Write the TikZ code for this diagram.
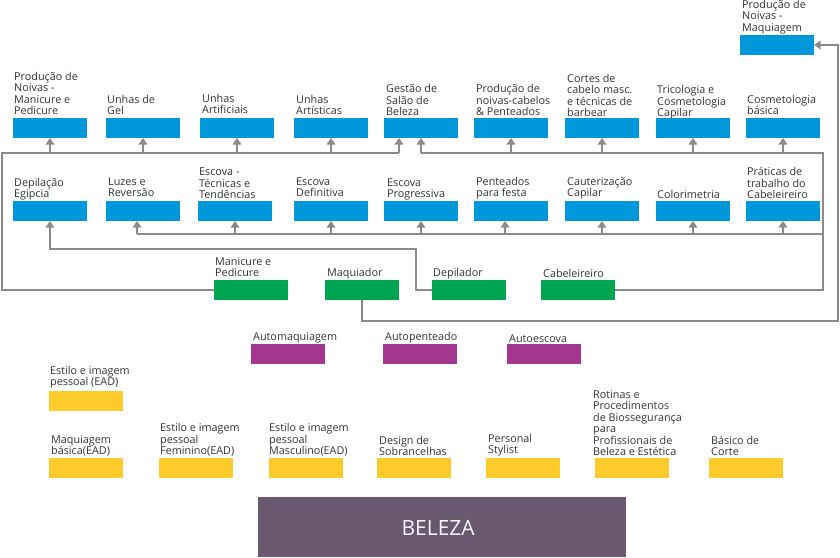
\documentclass[tikz,border=0pt]{standalone}
\usepackage{fontspec}
\setmainfont{Open Sans}
\usetikzlibrary{arrows.meta}
\definecolor{cblue}{HTML}{0098DA}
\definecolor{cgreen}{HTML}{00A551}
\definecolor{cpurple}{HTML}{A3368F}
\definecolor{cyellow}{HTML}{FFCB2B}
\definecolor{cbeleza}{HTML}{6A5870}
\definecolor{cline}{HTML}{8A8A8A}
\definecolor{ctext}{HTML}{333333}
\tikzset{
  boxbase/.style={anchor=north west,minimum width=74pt,minimum height=20pt,inner sep=0pt,outer sep=0pt},
  bluebox/.style={boxbase,fill=cblue},
  greenbox/.style={boxbase,fill=cgreen},
  purplebox/.style={boxbase,fill=cpurple},
  yellowbox/.style={boxbase,fill=cyellow},
  lbl/.style={anchor=south west,align=left,inner sep=0pt,text=ctext,font=\fontsize{10.8}{11.5}\selectfont},
  conn/.style={draw=cline,line width=1.9pt},
  arr/.style={conn,-{Triangle[width=8.5pt,length=6.5pt]}},
}
% \lab{name}{x}{baseline y}{text}
\newcommand\lab[4]{\node[lbl] (#1) at (#2,#3+3.45) {#4\strut};}
\begin{document}
\begin{tikzpicture}[x=1pt,y=-1pt]
\useasboundingbox (0,0) rectangle (840,557);

% ---------- top row (blue) ----------
\node[bluebox] (bPNM) at (13,118) {};
\node[bluebox] (bUG)  at (106,118) {};
\node[bluebox] (bUAf) at (200,118) {};
\node[bluebox] (bUAs) at (294,118) {};
\node[bluebox] (bGS)  at (384,118) {};
\node[bluebox] (bPNC) at (474,118) {};
\node[bluebox] (bCC)  at (565,118) {};
\node[bluebox] (bTC)  at (656,118) {};
\node[bluebox] (bCB)  at (746,118) {};
\node[bluebox] (bNM)  at (740,35) {};
\lab{lPNM}{14}{115}{Produção de\\Noivas -\\Manicure e\\Pedicure}
\lab{lUG}{107}{115}{Unhas de\\Gel}
\lab{lUAf}{202}{114}{Unhas\\Artificiais}
\lab{lUAs}{296}{115}{Unhas\\Artísticas}
\lab{lGS}{386}{116}{Gestão de\\Salão de\\Beleza}
\lab{lPNC}{476}{116}{Produção de\\noivas-cabelos\\\& Penteados}
\lab{lCC}{567}{117}{Cortes de\\cabelo masc.\\e técnicas de\\barbear}
\lab{lTC}{657}{117}{Tricologia e\\Cosmetologia\\Capilar}
\lab{lCB}{747}{115}{Cosmetologia\\básica}
\lab{lNM}{742}{31.5}{Produção de\\Noivas -\\Maquiagem}

% ---------- second row (blue) ----------
\node[bluebox] (bDE) at (13,201) {};
\node[bluebox] (bLR) at (106,201) {};
\node[bluebox] (bET) at (198,201) {};
\node[bluebox] (bED) at (294,201) {};
\node[bluebox] (bEP) at (384,201) {};
\node[bluebox] (bPF) at (474,201) {};
\node[bluebox] (bCa) at (565,201) {};
\node[bluebox] (bCo) at (656,201) {};
\node[bluebox] (bPT) at (746,201) {};
\lab{lDE}{14}{198}{Depilação\\Egipcia}
\lab{lLR}{108}{197}{Luzes e\\Reversão}
\lab{lET}{199}{199}{Escova -\\Técnicas e\\Tendências}
\lab{lED}{296}{197}{Escova\\Definitiva}
\lab{lEP}{387}{198}{Escova\\Progressiva}
\lab{lPF}{476}{197}{Penteados\\para festa}
\lab{lCa}{567}{197}{Cauterização\\Capilar}
\lab{lCo}{657}{199}{Colorimetria}
\lab{lPT}{747}{199}{Práticas de\\trabalho do\\Cabeleireiro}

% ---------- green ----------
\node[greenbox] (gMP) at (214,280) {};
\node[greenbox] (gMq) at (325,280) {};
\node[greenbox] (gDp) at (432,280) {};
\node[greenbox] (gCb) at (541,280) {};
\lab{lMP}{215}{277}{Manicure e\\Pedicure}
\lab{lMq}{327}{277}{Maquiador}
\lab{lDp}{433}{277}{Depilador}
\lab{lCb}{543}{278}{Cabeleireiro}

% ---------- purple ----------
\node[purplebox] (pAM) at (251,344) {};
\node[purplebox] (pAP) at (383,344) {};
\node[purplebox] (pAE) at (507,344) {};
\lab{lAM}{253}{341}{Automaquiagem}
\lab{lAP}{385}{341}{Autopenteado}
\lab{lAE}{509}{343}{Autoescova}

% ---------- yellow ----------
\node[yellowbox] (yEP) at (49,391) {};
\node[yellowbox] (yMB) at (49,458) {};
\node[yellowbox] (yEF) at (159,458) {};
\node[yellowbox] (yEM) at (269,458) {};
\node[yellowbox] (yDS) at (377,458) {};
\node[yellowbox] (yPS) at (486,458) {};
\node[yellowbox] (yRP) at (595,458) {};
\node[yellowbox] (yBC) at (709,458) {};
\lab{lEP2}{50}{386}{Estilo e imagem\\pessoal (EAD)}
\lab{lMB}{51}{455}{Maquiagem\\básica(EAD)}
\lab{lEF}{160}{455}{Estilo e imagem\\pessoal\\Feminino(EAD)}
\lab{lEM}{269}{455}{Estilo e imagem\\pessoal\\Masculino(EAD)}
\lab{lDS}{379}{456}{Design de\\Sobrancelhas}
\lab{lPS}{488}{454}{Personal\\Stylist}
\lab{lRP}{593}{456}{Rotinas e\\Procedimentos\\de Biossegurança\\para\\Profissionais de\\Beleza e Estética}
\lab{lBC}{711}{456}{Básico de\\Corte}

% ---------- BELEZA ----------
\node[anchor=north west,fill=cbeleza,minimum width=368pt,minimum height=60pt,inner sep=0pt] (beleza) at (258,497) {};
\node[text=white!94!cbeleza,font=\fontsize{21}{24}\selectfont] (belezat) at ([xshift=-4pt,yshift=-1pt]beleza.center) {BELEZA};

% ---------- connectors ----------
\coordinate (TL) at (2,153);
\coordinate (TR) at (823,153);
\coordinate (gsL) at ([xshift=-22pt]bGS.south);
\coordinate (M1) at (823,234);
\coordinate (lrA) at ([xshift=-6pt]bLR.south);
\coordinate (pfA) at ([xshift=-6pt]bPF.south);
\coordinate (DpC) at (416,249);
\coordinate (MqC) at (838,321);

% Manicure e Pedicure -> nail courses
\draw[conn] (gMP.west) -| (TL) -- (gsL |- TL);
\foreach \b in {bPNM,bUG,bUAf,bUAs} \draw[arr] (\b.south |- TL) -- (\b.south);
\draw[arr] (gsL |- TL) -- (gsL);

% Cabeleireiro -> hair courses
\draw[conn] (gCb.east) -| (TR) -- (bGS.south |- TR);
\foreach \b in {bGS,bPNC,bCC,bTC,bCB} \draw[arr] (\b.south |- TR) -- (\b.south);
\draw[conn] (lrA |- M1) -- (M1);
\draw[arr] (lrA |- M1) -- (lrA);
\draw[arr] (pfA |- M1) -- (pfA);
\foreach \b in {bET,bED,bEP,bCa,bCo,bPT} \draw[arr] (\b.south |- M1) -- (\b.south);

% Depilador -> Depilacao Egipcia
\draw[arr] (gDp.west) -| (DpC) -| (bDE.south);

% Maquiador -> Producao de Noivas - Maquiagem
\draw[arr] (gMq.south) |- (MqC) |- (bNM.east);
\end{tikzpicture}
\end{document}
